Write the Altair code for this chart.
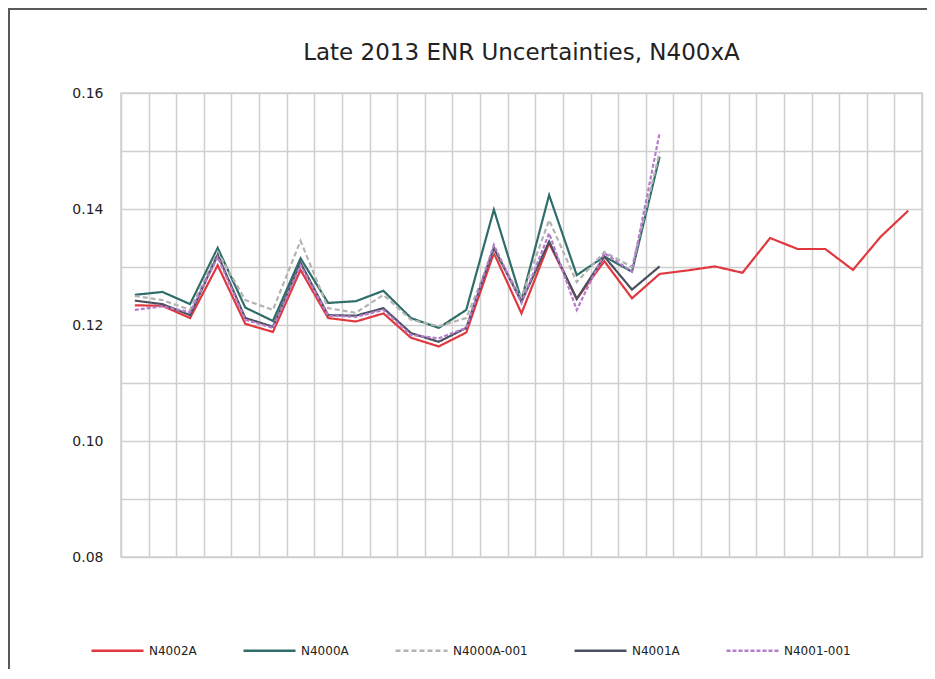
import altair as alt
import pandas as pd

categories = list(range(1, 30))
series_names = ["N4002A", "N4000A", "N4000A-001", "N4001A", "N4001-001"]

n4002a = [0.1234, 0.1233, 0.1212, 0.1303, 0.1202, 0.1188, 0.1295, 0.1212, 0.1206, 0.1220,
          0.1178, 0.1163, 0.1187, 0.1324, 0.1220, 0.1341, 0.1245, 0.1310, 0.1246, 0.1288,
          0.1294, 0.1301, 0.1290, 0.1350, 0.1331, 0.1331, 0.1295, 0.1352, 0.1397]
n4000a = [0.1252, 0.1257, 0.1236, 0.1333, 0.1230, 0.1207, 0.1315, 0.1238, 0.1241, 0.1259,
          0.1212, 0.1195, 0.1226, 0.1399, 0.1243, 0.1424, 0.1286, 0.1318, 0.1292, 0.1490]
n4000a_001 = [0.1250, 0.1243, 0.1226, 0.1326, 0.1243, 0.1226, 0.1345, 0.1229, 0.1221, 0.1252,
              0.1209, 0.1198, 0.1212, 0.1329, 0.1248, 0.1381, 0.1274, 0.1326, 0.1300, 0.1498]
n4001a = [0.1242, 0.1236, 0.1217, 0.1321, 0.1212, 0.1197, 0.1307, 0.1217, 0.1216, 0.1229,
          0.1186, 0.1171, 0.1195, 0.1333, 0.1240, 0.1344, 0.1245, 0.1318, 0.1261, 0.1301]
n4001_001 = [0.1226, 0.1232, 0.1222, 0.1317, 0.1209, 0.1195, 0.1303, 0.1216, 0.1214, 0.1226,
             0.1183, 0.1177, 0.1195, 0.1338, 0.1238, 0.1358, 0.1226, 0.1324, 0.1292, 0.1531]

colors = ["#e0383e", "#2f6e68", "#b3b3b3", "#4b5060", "#b57ccc"]
dashes = [[1, 0], [1, 0], [5, 3], [1, 0], [4, 2]]

y_grid = [0.08, 0.09, 0.10, 0.11, 0.12, 0.13, 0.14, 0.15, 0.16]
x_grid = [c - 0.5 for c in categories] + [categories[-1] + 0.5]

rows = []
for order, (name, vals) in enumerate(zip(series_names, [n4002a, n4000a, n4000a_001, n4001a, n4001_001])):
    for c, v in zip(categories, vals):
        rows.append({"cat": c, "value": v, "series": name, "ord": order})
df = pd.DataFrame(rows)

lines = alt.Chart(df).mark_line(strokeWidth=2.2).encode(
    x=alt.X("cat:Q",
            scale=alt.Scale(domain=[0.5, 29.5], nice=False, zero=False),
            axis=alt.Axis(values=x_grid, labels=False, ticks=False, domain=False, title=None, grid=True)),
    y=alt.Y("value:Q",
            scale=alt.Scale(domain=[0.08, 0.16], nice=False, zero=False),
            axis=alt.Axis(values=y_grid,
                          labelExpr="abs(round(datum.value*100)) % 2 == 0 ? format(datum.value, '.2f') : ''",
                          ticks=False, domain=False, title=None, labelPadding=18,
                          labelFontSize=14, labelColor="#222222")),
    color=alt.Color("series:N", scale=alt.Scale(domain=series_names, range=colors), title=None),
    strokeDash=alt.StrokeDash("series:N", scale=alt.Scale(domain=series_names, range=dashes), title=None),
    order=alt.Order("ord:Q"),
)

# decorative chart-area frame edges (not data): left and top only
frame_src = pd.DataFrame({"f": [0]})
frame_left = alt.Chart(frame_src).mark_rule(stroke="#595959", strokeWidth=2, clip=False).encode(
    x=alt.value(-112), x2=alt.value(-112), y=alt.value(-85), y2=alt.value(576)
)
frame_top = alt.Chart(frame_src).mark_rule(stroke="#595959", strokeWidth=2, clip=False).encode(
    x=alt.value(-113), x2=alt.value(806), y=alt.value(-84), y2=alt.value(-84)
)

chart = alt.layer(lines, frame_left, frame_top).properties(
    width=801,
    height=464,
    autosize="none",
    padding={"left": 113, "top": 85, "right": 5, "bottom": 112},
    title=alt.Title("Late 2013 ENR Uncertainties,  N400xA", fontSize=23, fontWeight="normal",
                    color="#222222", offset=-58, anchor="middle"),
).configure(
    font="DejaVu Sans",
).configure_view(
    stroke="#cfcfcf", strokeWidth=1.5,
).configure_axis(
    gridColor="#cfcfcf", gridWidth=1.5,
).configure_legend(
    orient="none", legendX=-31, legendY=530, direction="horizontal", columns=5,
    columnPadding=41, symbolType="stroke", symbolSize=2704, symbolStrokeWidth=2.5,
    labelFontSize=12, labelColor="#222222", labelOffset=4,
)

chart.save("out.html", embed_options={"renderer": "svg", "actions": False})
